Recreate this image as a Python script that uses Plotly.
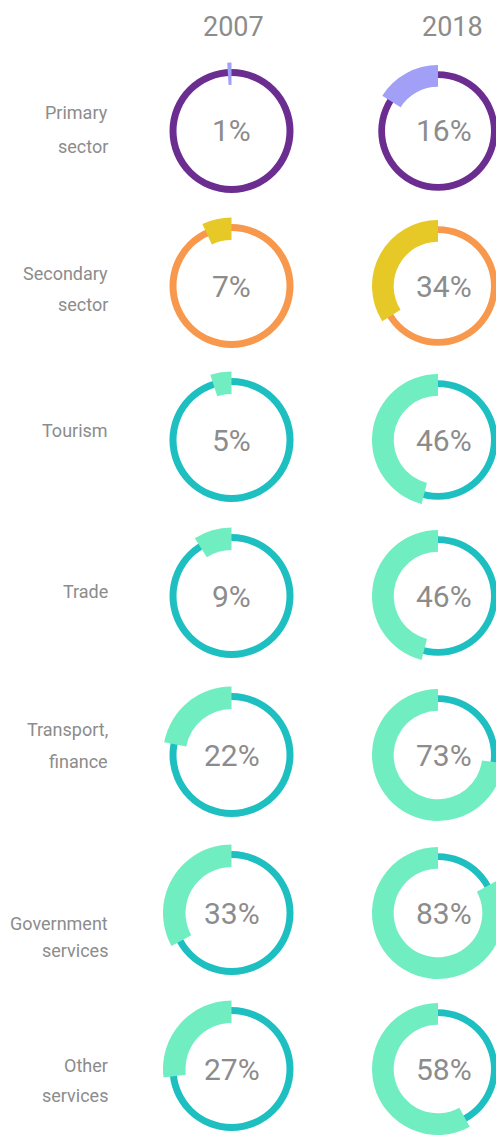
import plotly.graph_objects as go

# --- data ---
sectors = ["Primary<br>sector", "Secondary<br>sector", "Tourism", "Trade",
           "Transport,<br>finance", "Government<br>services", "Other<br>services"]
years = ["2007", "2018"]
pct_2007 = [1, 7, 5, 9, 22, 33, 27]
pct_2018 = [16, 34, 46, 46, 73, 83, 58]

# ring colour / highlight colour per row
ring_colors = ["#6c2d90", "#f7984c", "#1dbfc1", "#1dbfc1", "#1dbfc1", "#1dbfc1", "#1dbfc1"]
arc_colors = ["#a19ff6", "#e6c826", "#70eec2", "#70eec2", "#70eec2", "#70eec2", "#70eec2"]

# --- layout constants (page px; the page body adds an 8px margin) ---
PAGE_OFF = 8
W, H = 504 - PAGE_OFF, 1138 - PAGE_OFF
row_y = [131, 286, 440, 596, 755, 913, 1069]
col_x = [231.5, 438]
col_r = [68.5, 66]          # outer radius of the thick arc
text_x = [231.5, 444]
label_x = 110
label_line_y = [[112, 146], [273, 304], [430], [591], [729, 762], [923, 950], [1065, 1095]]
text_grey = "#8c8c8c"
FONT = "Roboto, sans-serif"


def px(x):
    return (x - PAGE_OFF) / W


def py(y):
    return 1 - (y - PAGE_OFF) / H


def domain(cx, cy, r):
    return dict(x=[max(0, px(cx - r)), min(1, px(cx + r))],
                y=[max(0, py(cy + r)), min(1, py(cy - r))])


fig = go.Figure()

for i, label in enumerate(sectors):
    for j, vals in enumerate([pct_2007, pct_2018]):
        cx, cy, R = col_x[j], row_y[i], col_r[j]
        thin_r = R * 62 / 68.5
        # thin base ring
        fig.add_trace(go.Pie(
            values=[100], hole=55 / 62, sort=False,
            marker=dict(colors=[ring_colors[i]], line=dict(width=0)),
            textinfo="none", hoverinfo="skip", showlegend=False,
            domain=domain(cx, cy, thin_r)
        ))
        # thick highlighted arc, running anticlockwise from 12 o'clock
        p = vals[i]
        fig.add_trace(go.Pie(
            values=[100 - p, p], hole=46 / 68.5, sort=False,
            direction="clockwise", rotation=0,
            marker=dict(colors=["rgba(0,0,0,0)", arc_colors[i]], line=dict(width=0)),
            textinfo="none", hoverinfo="skip", showlegend=False,
            domain=domain(cx, cy, R)
        ))
        fig.add_annotation(x=px(text_x[j]), y=py(cy), xref="paper", yref="paper",
                           xanchor="center", yanchor="middle",
                           text=f"{p}%", showarrow=False,
                           font=dict(family=FONT, size=30, color=text_grey))

    # row labels (one annotation per line)
    for k, line in enumerate(label.split("<br>")):
        fig.add_annotation(x=px(label_x), y=py(label_line_y[i][k]),
                           xref="paper", yref="paper", xanchor="right", yanchor="middle",
                           text=line, showarrow=False,
                           font=dict(family=FONT, size=18, color=text_grey))

# column headers
for j, yr in enumerate(years):
    fig.add_annotation(x=px([233, 452][j]), y=py(27), xref="paper", yref="paper",
                       xanchor="center", yanchor="middle",
                       text=yr, showarrow=False,
                       font=dict(family=FONT, size=27, color=text_grey))

fig.update_layout(
    width=W, height=H,
    margin=dict(l=0, r=0, t=0, b=0),
    paper_bgcolor="white", plot_bgcolor="white",
    showlegend=False
)

fig.write_html("out.html")
